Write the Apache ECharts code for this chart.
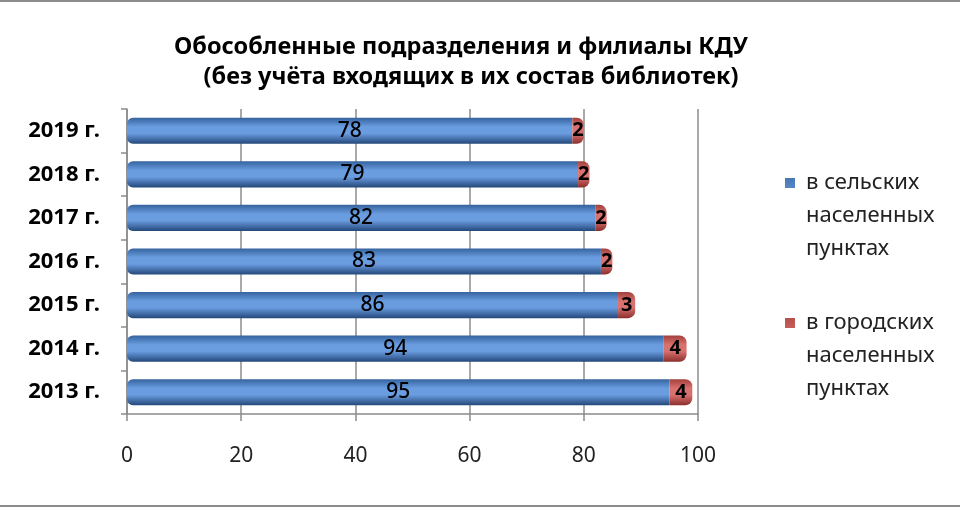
<!DOCTYPE html>
<html>
<head>
<meta charset="utf-8">
<script src="https://cdn.jsdelivr.net/npm/echarts@6/dist/echarts.min.js"></script>
<style>
  html, body { margin: 0; padding: 0; background: #fff; }
  #chart { width: 960px; height: 510px; }
</style>
</head>
<body>
<div id="chart"></div>
<script>
// данные диаграммы
const years = ['2013 г.', '2014 г.', '2015 г.', '2016 г.', '2017 г.', '2018 г.', '2019 г.'];
const rural = [95, 94, 86, 83, 82, 79, 78];
const urban = [4, 4, 3, 2, 2, 2, 2];
const xTicks = [0, 20, 40, 60, 80, 100];
const seriesNames = ['в сельских\nнаселенных\nпунктах', 'в городских\nнаселенных\nпунктах'];

const FONT = 'Noto Sans';

// значок легенды: квадрат на уровне первой строки (высота блока 3 строки)
const LEGEND_ICON = 'path://M0,0h0.01v0.01h-0.01z M0,12h10v10h-10z M16,99h0.01v0.01h-0.01z';

// цилиндр: тёмные края, светлая середина
function cyl(dark, light, edge) {
  return new echarts.graphic.LinearGradient(0, 0, 0, 1, [
    { offset: 0, color: dark },
    { offset: 0.35, color: light },
    { offset: 0.6, color: light },
    { offset: 1, color: edge }
  ]);
}

const legendBase = {
  orient: 'vertical', left: 785, padding: 0,
  itemWidth: 16, itemHeight: 99, icon: LEGEND_ICON, itemGap: 8,
  textStyle: { fontFamily: FONT, fontSize: 22, color: '#222', lineHeight: 33 }
};

const myChart = echarts.init(document.getElementById('chart'));

const option = {
  animation: false,
  backgroundColor: '#fff',
  title: [{
    text: 'Обособленные подразделения и филиалы КДУ',
    left: 456, top: 30, textAlign: 'center',
    textStyle: { fontFamily: FONT, fontSize: 23.5, fontWeight: 'bold', color: '#000' }
  }, {
    text: '(без учёта входящих в их состав библиотек)',
    left: 466, top: 60, textAlign: 'center',
    textStyle: { fontFamily: FONT, fontSize: 23.5, fontWeight: 'bold', color: '#000' }
  }],
  legend: [
    Object.assign({}, legendBase, { data: [seriesNames[0]], top: 166 }),
    Object.assign({}, legendBase, { data: [seriesNames[1]], top: 306 })
  ],
  grid: { left: 127, right: 262, top: 109, bottom: 96 },
  xAxis: {
    type: 'value', min: 0, max: 100, interval: 20,
    axisLine: { show: true, lineStyle: { color: '#8c8c8c', width: 1.5 } },
    axisTick: { show: true, length: 7, lineStyle: { color: '#8c8c8c', width: 1.5 } },
    axisLabel: {
      margin: 32, fontFamily: FONT, fontSize: 21, color: '#222',
      formatter: v => xTicks.includes(v) ? String(v) : ''
    },
    splitLine: { show: true, lineStyle: { color: '#8c8c8c', width: 1.5 } }
  },
  yAxis: {
    type: 'category', data: years,
    axisLine: { show: true, lineStyle: { color: '#8c8c8c', width: 1.5 } },
    axisTick: { show: true, length: 6, lineStyle: { color: '#8c8c8c', width: 1.5 } },
    axisLabel: { margin: 27, fontFamily: FONT, fontSize: 22, fontWeight: 'bold', color: '#000' }
  },
  series: [{
    name: seriesNames[0], type: 'bar', stack: 'total', barWidth: '60%',
    data: rural,
    itemStyle: { color: cyl('#34639e', '#6a9ce0', '#24487a'), borderRadius: [6, 0, 0, 6] },
    label: { show: true, position: 'inside', fontFamily: FONT, fontSize: 21, fontWeight: 500, color: '#000' }
  }, {
    name: seriesNames[1], type: 'bar', stack: 'total', barWidth: '60%',
    data: urban,
    itemStyle: { color: cyl('#a33f3c', '#d9716e', '#8a2f2d'), borderRadius: [0, 7, 7, 0] },
    label: { show: true, position: 'inside', fontFamily: FONT, fontSize: 20, fontWeight: 'bold', color: '#000' }
  }],
  graphic: [
    { type: 'rect', shape: { x: 0, y: 0, width: 960, height: 2 }, style: { fill: '#8c8c8c' } },
    { type: 'rect', shape: { x: 0, y: 505, width: 960, height: 2 }, style: { fill: '#8c8c8c' } }
  ]
};

myChart.setOption(option);
</script>
</body>
</html>
